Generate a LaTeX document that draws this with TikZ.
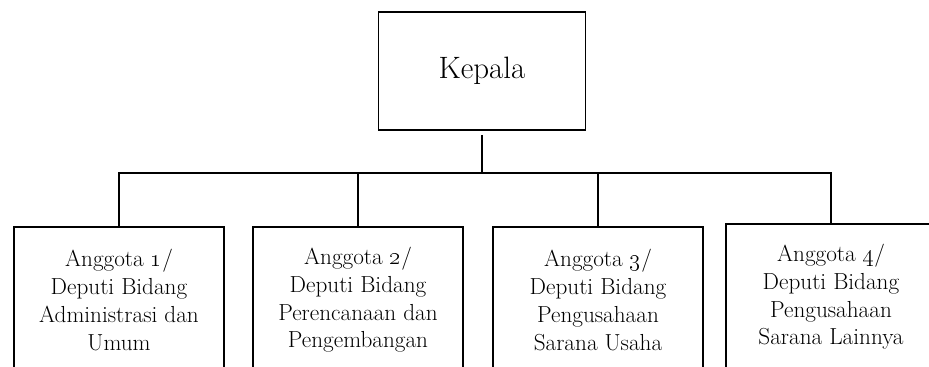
\documentclass[tikz,border=0pt]{standalone}
\usepackage{tikz}
\begin{document}
\begin{tikzpicture}[x=0.025cm,y=-0.025cm,
        kotak/.style={draw,line width=1.2pt,minimum width=5.25cm,align=center},
        anggota/.style={kotak,anchor=north,minimum height=3.65cm,font=\fontsize{16.5}{19.8}\selectfont},
        garis/.style={line width=1.2pt}]
            \useasboundingbox (0,0) rectangle (929,367);
            \clip (0,0) rectangle (929,367);

            \node[kotak,minimum width=5.175cm,minimum height=2.95cm,font=\fontsize{22}{26}\selectfont] (kepala) at (482,71) {Kepala};

            \node[anggota] (ang1) at (119,226) {Anggota \oldstylenums{1}/\\Deputi Bidang\\Administrasi dan\\Umum};
            \node[anggota] (ang2) at (358,226) {Anggota \oldstylenums{2}/\\Deputi Bidang\\Perencanaan dan\\Pengembangan};
            \node[anggota] (ang3) at (598,226) {Anggota \oldstylenums{3}/\\Deputi Bidang\\Pengusahaan\\Sarana Usaha};
            \node[anggota] (ang4) at (831,223) {Anggota \oldstylenums{4}/\\Deputi Bidang\\Pengusahaan\\Sarana Lainnya};

            \coordinate (bus) at (482,173);
            \draw[garis,shorten <=0.1cm] (kepala.south) -- (kepala.south |- bus);
            \draw[garis] (ang1.north) -- (ang1.north |- bus) -- (ang4.north |- bus) -- (ang4.north);
            \foreach \n in {ang2,ang3}
                \draw[garis] (\n.north) -- (\n.north |- bus);
        \end{tikzpicture}
\end{document}
